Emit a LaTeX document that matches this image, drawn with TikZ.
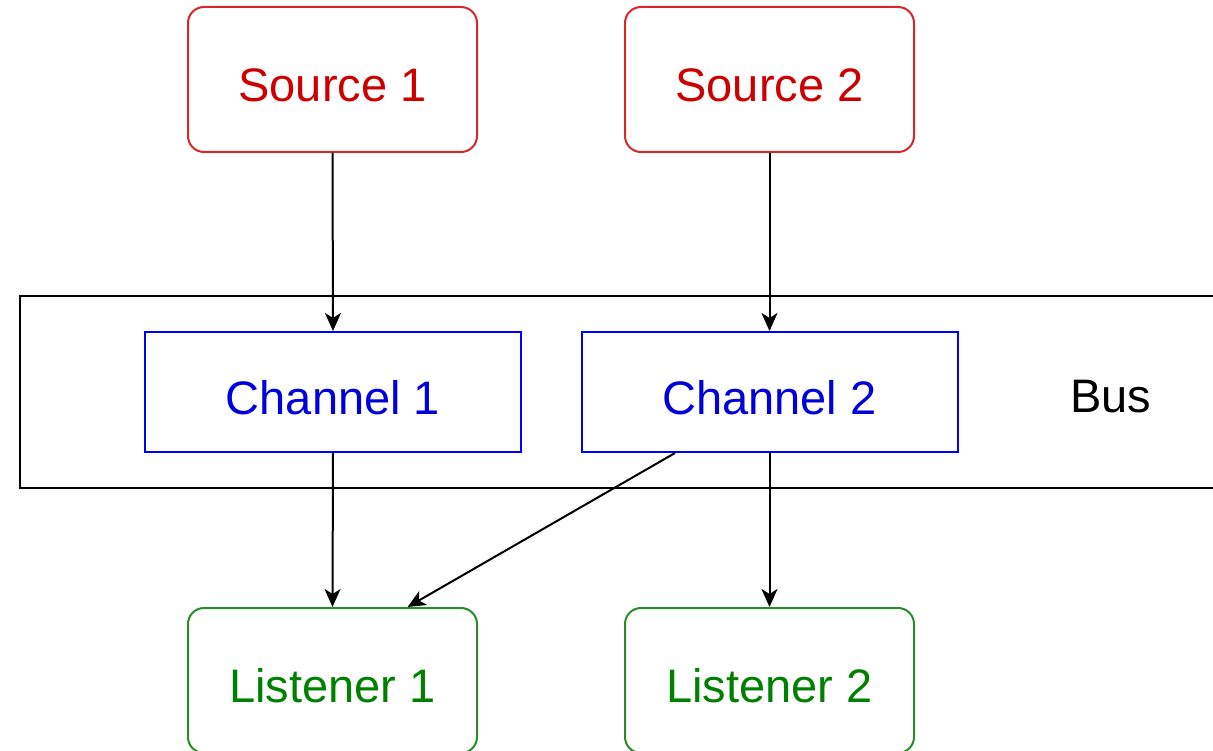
\documentclass[tikz,border=0pt]{standalone}
\usepackage{fontspec}
\setmainfont{Liberation Sans}
\usetikzlibrary{arrows.meta,calc}
\definecolor{srcred}{RGB}{204,0,0}
\definecolor{srcredline}{RGB}{214,40,40}
\definecolor{chblue}{RGB}{0,0,220}
\definecolor{chblueline}{RGB}{0,0,255}
\definecolor{lgreen}{RGB}{0,128,0}
\definecolor{lgreenline}{RGB}{40,140,40}
\tikzset{
  txt/.style={font=\fontsize{47pt}{56pt}\selectfont},
  boxtxt/.style={txt, text height=44pt, text depth=0pt},
  roundbox/.style={boxtxt, draw, rectangle, rounded corners=16pt, line width=2pt,
    minimum width=289pt, minimum height=145pt, inner sep=0pt},
  srcbox/.style={roundbox, draw=srcredline, text=srcred},
  lisbox/.style={roundbox, draw=lgreenline, text=lgreen},
  chbox/.style={boxtxt, draw=chblueline, text=chblue, rectangle, line width=2pt,
    minimum width=376pt, minimum height=120pt, inner sep=0pt},
  busbox/.style={draw=black, rectangle, line width=2pt,
    minimum width=1213pt, minimum height=192pt, inner sep=0pt},
  conn/.style={draw=black, line width=2pt,
    -{Stealth[length=18pt, width=16pt, inset=5pt]}}
}
\begin{document}
\begin{tikzpicture}[x=1pt,y=-1pt]
  \useasboundingbox (0,0) rectangle (1213,751);
  \clip (0,0) rectangle (1213,751);
  \node[busbox] (bus) at (626.5,392) {};
  \node[txt] (buslabel) at (1111,397) {Bus};
  \node[srcbox] (s1) at (332.5,79.5) {Source 1};
  \node[srcbox] (s2) at (769.5,79.5) {Source 2};
  \node[chbox] (c1) at (333,392) {Channel 1};
  \node[chbox] (c2) at (769.5,392) {Channel 2};
  \node[lisbox] (l1) at (332.5,680.5) {Listener 1};
  \node[lisbox] (l2) at (769.5,680.5) {Listener 2};
  \draw[conn] (s1.south) -- (c1.north);
  \draw[conn] (s2.south) -- (c2.north);
  \draw[conn] (c1.south) -- (l1.north);
  \draw[conn] (c2.south) -- (l2.north);
  \draw[conn] ($(c2.south west)!0.25!(c2.south east)$) -- ($(l1.north west)!0.758!(l1.north east)$);
\end{tikzpicture}
\end{document}
